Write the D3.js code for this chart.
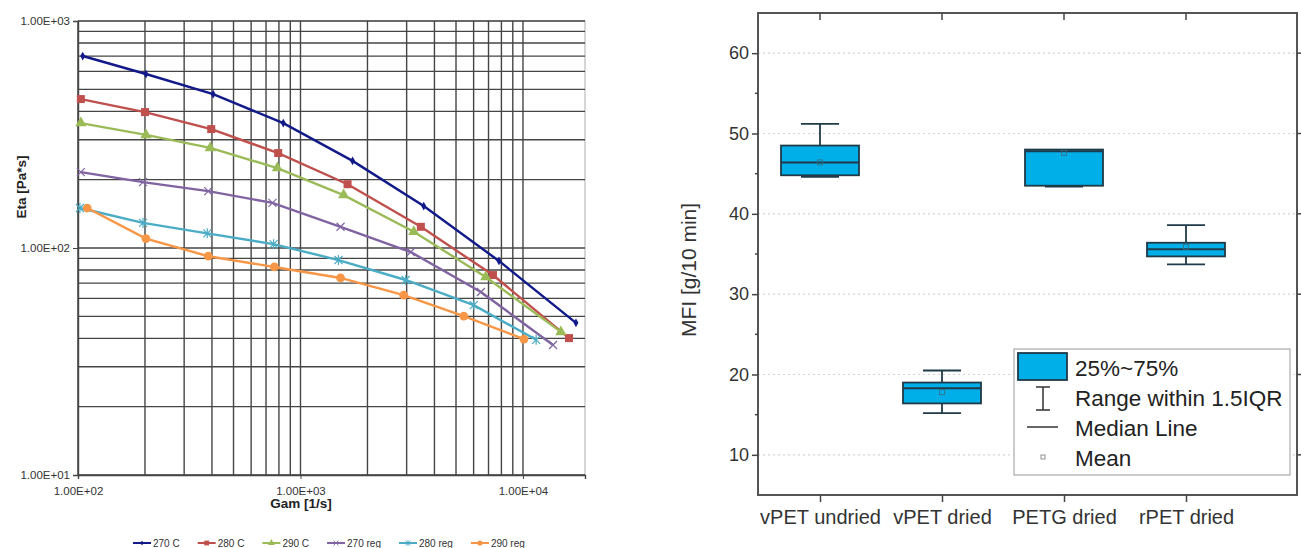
<!DOCTYPE html>
<html>
<head>
<meta charset="utf-8">
<script src="https://cdn.jsdelivr.net/npm/d3@7"></script>
<style>
  body { margin: 0; background: #fff; }
  svg { display: block; font-family: 'Liberation Sans', Arial, sans-serif; }
</style>
</head>
<body>
<svg id="chart" width="1301" height="548"></svg>
<script>
// ---- left chart: viscosity curves (log/log) ----
const seriesNames = ['270 C', '280 C', '290 C', '270 reg', '280 reg', '290 reg']
const seriesColors = ['#121a8a', '#c0504d', '#9bbb59', '#8064a2', '#4bacc6', '#f79646']
const seriesMarkers = ['diamond', 'square', 'triangle', 'cross', 'asterisk', 'circle']

const gam270C = [105, 202, 405, 837, 1714, 3580, 7800, 17300]
const eta270C = [701, 584, 476, 355, 242, 153, 87.7, 46.8]
const gam280C = [103, 200, 397, 794, 1628, 3475, 7330, 16100]
const eta280C = [453, 397, 334, 262, 191, 124, 76, 40.1]
const gam290C = [103, 202, 393, 787, 1563, 3230, 6800, 14800]
const eta290C = [355, 315, 276, 225, 171, 118, 74.5, 42.7]
const gam270reg = [103, 196, 385, 748, 1514, 3130, 6470, 13650]
const eta270reg = [216, 195, 178, 158, 124, 96, 64, 37.4]
const gam280reg = [102, 196, 381, 757, 1482, 2970, 6010, 11460]
const eta280reg = [150, 129, 116, 104, 88.5, 72.3, 56, 39.4]
const gam290reg = [110, 202, 385, 763, 1514, 2910, 5420, 10100]
const eta290reg = [150, 110, 92, 82.5, 73.8, 62, 50.1, 39.7]

const gamSeries = [gam270C, gam280C, gam290C, gam270reg, gam280reg, gam290reg]
const etaSeries = [eta270C, eta280C, eta290C, eta270reg, eta280reg, eta290reg]

const xTickLabels = ['1.00E+02', '1.00E+03', '1.00E+04']
const yTickLabels = ['1.00E+01', '1.00E+02', '1.00E+03']

// ---- right chart: MFI box plot ----
const boxCategories = ['vPET undried', 'vPET dried', 'PETG dried', 'rPET dried']
const whiskerLow = [44.6, 15.2, 43.4, 33.7]
const boxQ1 = [44.8, 16.4, 43.5, 34.7]
const boxMedian = [46.4, 18.3, 47.8, 35.6]
const boxQ3 = [48.5, 19.0, 48.0, 36.4]
const whiskerHigh = [51.2, 20.5, 47.9, 38.6]
const boxMean = [46.4, 17.8, 47.6, 35.9]
const mfiTicks = [10, 20, 30, 40, 50, 60]
const legendLabels = ['25%~75%', 'Range within 1.5IQR', 'Median Line', 'Mean']

const svg = d3.select('#chart')

// ================= LEFT =================
const L = { left: 78, right: 585, top: 21, bottom: 475 }
const x = d3.scaleLog().domain([100, 19000]).range([L.left, L.right])
const y = d3.scaleLog().domain([10, 1000]).range([L.bottom, L.top])

const gl = svg.append('g')

// minor + major grid
const xGrid = []
for (let d = 100; d <= 10000; d *= 10) {
  for (let k = 1; k < 10; k++) if (d * k <= 19000) xGrid.push(d * k)
}
const yGrid = []
for (let d = 10; d < 1000; d *= 10) {
  for (let k = 1; k < 10; k++) yGrid.push(d * k)
}
yGrid.push(1000)

gl.append('rect')
  .attr('x', L.left).attr('y', L.top)
  .attr('width', L.right - L.left).attr('height', L.bottom - L.top)
  .attr('fill', 'none').attr('stroke', '#bbb').attr('stroke-width', 1.2)

gl.selectAll('line.ygrid').data(yGrid).join('line')
  .attr('class', 'ygrid')
  .attr('x1', L.left).attr('x2', L.right)
  .attr('y1', d => y(d)).attr('y2', d => y(d))
  .attr('stroke', '#454545').attr('stroke-width', 1.4)

gl.selectAll('line.xgrid').data(xGrid).join('line')
  .attr('class', 'xgrid')
  .attr('y1', L.top).attr('y2', L.bottom)
  .attr('x1', d => x(d)).attr('x2', d => x(d))
  .attr('stroke', '#454545').attr('stroke-width', 1.4)

// axes
const xAxisL = d3.axisBottom(x).tickValues([100, 1000, 10000]).tickSize(4)
  .tickFormat((d, i) => xTickLabels[i])
const yAxisL = d3.axisLeft(y).tickValues([10, 100, 1000]).tickSize(5)
  .tickFormat((d, i) => yTickLabels[i])

gl.append('g').attr('transform', `translate(0,${L.bottom})`).call(xAxisL)
  .call(g => g.select('.domain').attr('stroke', '#444').attr('stroke-width', 1.4))
  .call(g => g.selectAll('.tick line').attr('stroke', '#444'))
  .call(g => g.selectAll('.tick text').attr('font-size', 11.5).attr('fill', '#333').attr('dy', '1.1em')
    .attr('font-family', 'Liberation Sans, Arial'))

gl.append('g').attr('transform', `translate(${L.left},0)`).call(yAxisL)
  .call(g => g.select('.domain').attr('stroke', '#444').attr('stroke-width', 1.4))
  .call(g => g.selectAll('.tick line').attr('stroke', '#444'))
  .call(g => g.selectAll('.tick text').attr('font-size', 11.5).attr('fill', '#333').attr('x', -8)
    .attr('font-family', 'Liberation Sans, Arial'))

gl.append('text')
  .attr('x', 301).attr('y', 508)
  .attr('text-anchor', 'middle').attr('font-size', 13.5).attr('font-weight', 'bold')
  .attr('fill', '#222').text('Gam [1/s]')

gl.append('text')
  .attr('transform', 'translate(26,187) rotate(-90)')
  .attr('text-anchor', 'middle').attr('font-size', 13.5).attr('font-weight', 'bold')
  .attr('fill', '#222').text('Eta [Pa*s]')

function markerPath (type, s) {
  switch (type) {
    case 'diamond': return d3.symbol(d3.symbolDiamond, 22)()
    case 'square': return d3.symbol(d3.symbolSquare, s * s)()
    case 'triangle': return d3.symbol(d3.symbolTriangle, 55)()
    case 'circle': return d3.symbol(d3.symbolCircle, 60)()
    case 'cross': {
      const h = s / 2
      return `M${-h},${-h}L${h},${h}M${-h},${h}L${h},${-h}`
    }
    case 'asterisk': {
      const h = s / 2
      return `M${-h},${-h}L${h},${h}M${-h},${h}L${h},${-h}M0,${-h - 1}L0,${h + 1}`
    }
  }
}

const line = d3.line().x(d => x(d[0])).y(d => y(d[1]))

seriesNames.forEach((name, i) => {
  const pts = gamSeries[i].map((g, j) => [g, etaSeries[i][j]])
  const sg = gl.append('g')
  sg.append('path').datum(pts)
    .attr('d', line).attr('fill', 'none')
    .attr('stroke', seriesColors[i]).attr('stroke-width', 2.4)
  const stroked = seriesMarkers[i] === 'cross' || seriesMarkers[i] === 'asterisk'
  sg.selectAll('path.m').data(pts).join('path')
    .attr('class', 'm')
    .attr('transform', d => `translate(${x(d[0])},${y(d[1])})`)
    .attr('d', markerPath(seriesMarkers[i], 8))
    .attr('fill', stroked ? 'none' : seriesColors[i])
    .attr('stroke', seriesColors[i])
    .attr('stroke-width', stroked ? 1.2 : 0)
})

// legend
const lg = gl.append('g').attr('transform', 'translate(133,543)')
let lx = 0
seriesNames.forEach((name, i) => {
  const item = lg.append('g').attr('transform', `translate(${lx},0)`)
  item.append('line').attr('x1', 0).attr('x2', 18).attr('y1', 0).attr('y2', 0)
    .attr('stroke', seriesColors[i]).attr('stroke-width', 2)
  const stroked = seriesMarkers[i] === 'cross' || seriesMarkers[i] === 'asterisk'
  item.append('path').attr('transform', 'translate(9,0) scale(0.6)')
    .attr('d', markerPath(seriesMarkers[i], 8))
    .attr('fill', stroked ? 'none' : seriesColors[i])
    .attr('stroke', seriesColors[i]).attr('stroke-width', stroked ? 1.5 : 0)
  const t = item.append('text').attr('x', 20).attr('y', 3.5)
    .attr('font-size', 10).attr('fill', '#333').text(name)
  lx += 20 + t.node().getComputedTextLength() + 18
})

// ================= RIGHT =================
const R = { left: 758, right: 1297, top: 13, bottom: 495 }
const xb = d3.scalePoint().domain(boxCategories).range([820, 1186])
const yb = d3.scaleLinear().domain([5, 65]).range([R.bottom, R.top])
const gr = svg.append('g')

// dotted grid
gr.selectAll('line.grid').data(mfiTicks).join('line')
  .attr('class', 'grid')
  .attr('x1', R.left).attr('x2', R.right)
  .attr('y1', d => yb(d)).attr('y2', d => yb(d))
  .attr('stroke', '#d4d4d4').attr('stroke-width', 1.2).attr('stroke-dasharray', '2,3')

// frame
gr.append('rect')
  .attr('x', R.left).attr('y', R.top)
  .attr('width', R.right - R.left).attr('height', R.bottom - R.top)
  .attr('fill', 'none').attr('stroke', '#555').attr('stroke-width', 2)

const yAxisR = d3.axisLeft(yb).tickValues(mfiTicks).tickSize(6).tickFormat(d3.format('d'))
gr.append('g').attr('transform', `translate(${R.left},0)`).call(yAxisR)
  .call(g => g.select('.domain').remove())
  .call(g => g.selectAll('.tick line').attr('stroke', '#444').attr('stroke-width', 1.5))
  .call(g => g.selectAll('.tick text').attr('font-size', 18).attr('fill', '#333').attr('x', -9))

// minor ticks
const minor = d3.range(15, 65, 10)
gr.selectAll('line.minor').data(minor).join('line')
  .attr('class', 'minor')
  .attr('x1', R.left - 3).attr('x2', R.left)
  .attr('y1', d => yb(d)).attr('y2', d => yb(d))
  .attr('stroke', '#444').attr('stroke-width', 1.5)
gr.selectAll('line.rtick').data(mfiTicks).join('line')
  .attr('class', 'rtick')
  .attr('x1', R.right).attr('x2', R.right + 4)
  .attr('y1', d => yb(d)).attr('y2', d => yb(d))
  .attr('stroke', '#444').attr('stroke-width', 1.5)

const xAxisR = d3.axisBottom(xb).tickSize(7)
gr.append('g').attr('transform', `translate(0,${R.bottom})`).call(xAxisR)
  .call(g => g.select('.domain').remove())
  .call(g => g.selectAll('.tick line').attr('stroke', '#444').attr('stroke-width', 1.5))
  .call(g => g.selectAll('.tick text').attr('font-size', 20).attr('fill', '#333').attr('dy', '0.95em'))

gr.selectAll('line.ttick').data(boxCategories).join('line')
  .attr('class', 'ttick')
  .attr('x1', d => xb(d)).attr('x2', d => xb(d))
  .attr('y1', R.top).attr('y2', R.top + 7)
  .attr('stroke', '#444').attr('stroke-width', 1.5)

gr.append('text')
  .attr('transform', `translate(696,${(R.top + R.bottom) / 2 + 16}) rotate(-90)`)
  .attr('text-anchor', 'middle').attr('font-size', 21).attr('fill', '#333')
  .text('MFI [g/10 min]')

// boxes
const boxW = 78
const capW = 38
const boxFill = '#00aee8'
const boxStroke = '#1f3a48'
boxCategories.forEach((c, i) => {
  const cx = xb(c)
  const bg = gr.append('g')
  bg.append('line').attr('x1', cx).attr('x2', cx)
    .attr('y1', yb(whiskerHigh[i])).attr('y2', yb(whiskerLow[i]))
    .attr('stroke', boxStroke).attr('stroke-width', 1.8)
  ;[whiskerHigh[i], whiskerLow[i]].forEach(v => {
    bg.append('line').attr('x1', cx - capW / 2).attr('x2', cx + capW / 2)
      .attr('y1', yb(v)).attr('y2', yb(v))
      .attr('stroke', boxStroke).attr('stroke-width', 1.8)
  })
  bg.append('rect')
    .attr('x', cx - boxW / 2).attr('y', yb(boxQ3[i]))
    .attr('width', boxW).attr('height', yb(boxQ1[i]) - yb(boxQ3[i]))
    .attr('fill', boxFill).attr('stroke', boxStroke).attr('stroke-width', 1.8)
  bg.append('line').attr('x1', cx - boxW / 2).attr('x2', cx + boxW / 2)
    .attr('y1', yb(boxMedian[i])).attr('y2', yb(boxMedian[i]))
    .attr('stroke', boxStroke).attr('stroke-width', 2)
  bg.append('rect')
    .attr('x', cx - 2.5).attr('y', yb(boxMean[i]) - 2.5)
    .attr('width', 5).attr('height', 5)
    .attr('fill', 'none').attr('stroke', '#3a6a80').attr('stroke-width', 0.8)
})

// legend
const lgR = gr.append('g').attr('transform', 'translate(1014,349)')
lgR.append('rect').attr('width', 276).attr('height', 126)
  .attr('fill', '#fff').attr('stroke', '#aaa').attr('stroke-width', 1.2)
const rowY = [27, 57, 87, 117]
lgR.append('rect').attr('x', 4).attr('y', 4).attr('width', 49).attr('height', 27)
  .attr('fill', boxFill).attr('stroke', boxStroke).attr('stroke-width', 1.8)
lgR.append('path').attr('d', 'M22,38H36M29,38V61M22,61H36')
  .attr('fill', 'none').attr('stroke', '#333').attr('stroke-width', 1.5)
lgR.append('line').attr('x1', 13).attr('x2', 44).attr('y1', 78).attr('y2', 78)
  .attr('stroke', '#555').attr('stroke-width', 1.8)
lgR.append('rect').attr('x', 27).attr('y', 106).attr('width', 4).attr('height', 4)
  .attr('fill', 'none').attr('stroke', '#777').attr('stroke-width', 0.8)
lgR.selectAll('text').data(legendLabels).join('text')
  .attr('x', 61).attr('y', (d, i) => rowY[i])
  .attr('font-size', 22.5).attr('fill', '#222').text(d => d)
</script>
</body>
</html>
